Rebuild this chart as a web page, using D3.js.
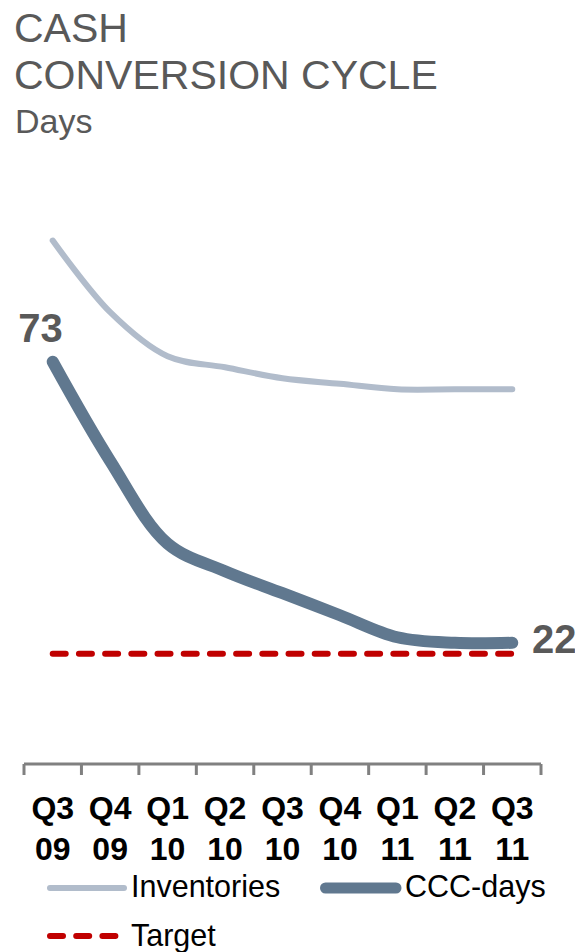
<!DOCTYPE html>
<html>
<head>
<meta charset="utf-8">
<script src="https://cdn.jsdelivr.net/npm/d3@7"></script>
<style>
  html, body { margin: 0; padding: 0; background: #fff; }
  svg { display: block; font-family: "Liberation Sans", Arial, sans-serif; }
</style>
</head>
<body>
<svg id="chart" width="575" height="952"></svg>
<script>
// Quarterly cash conversion cycle, in days
const quarters = ["Q3 09", "Q4 09", "Q1 10", "Q2 10", "Q3 10", "Q4 10", "Q1 11", "Q2 11", "Q3 11"];
const quarterLines = [["Q3", "09"], ["Q4", "09"], ["Q1", "10"], ["Q2", "10"], ["Q3", "10"], ["Q4", "10"], ["Q1", "11"], ["Q2", "11"], ["Q3", "11"]];
const inventories = [95, 82, 74, 72, 70, 69, 68, 68, 68];
const cccDays = [73, 55, 40, 35, 31, 27, 23, 22, 22];
const target = [20, 20, 20, 20, 20, 20, 20, 20, 20];
const titleLines = ["CASH", "CONVERSION CYCLE"];
const subtitle = "Days";

const colors = { inv: "#b1bccb", ccc: "#60788f", target: "#c00000", text: "#595959", axis: "#808080" };

const svg = d3.select("#chart");

const x = d3.scaleBand().domain(quarters).range([24, 541]).padding(0);
const y = d3.scaleLinear().domain([0, 100]).range([764, 213]);
const cx = q => x(q) + x.bandwidth() / 2;

// Title block
svg.append("g").selectAll("text").data(titleLines).join("text")
  .attr("x", 14).attr("y", (d, i) => 41.5 + i * 47)
  .attr("font-size", 41).attr("fill", colors.text).text(d => d);
svg.append("text").attr("x", 15).attr("y", 133)
  .attr("font-size", 34).attr("fill", colors.text).text(subtitle);

const line = d3.line()
  .x((d, i) => cx(quarters[i]))
  .y(d => y(d))
  .curve(d3.curveCatmullRom.alpha(0.5));

// Series
svg.append("path").datum(inventories).attr("d", line)
  .attr("fill", "none").attr("stroke", colors.inv).attr("stroke-width", 6)
  .attr("stroke-linecap", "round").attr("stroke-linejoin", "round");

svg.append("path").datum(target).attr("d", d3.line().x((d, i) => cx(quarters[i])).y(d => y(d)))
  .attr("fill", "none").attr("stroke", colors.target).attr("stroke-width", 6)
  .attr("stroke-linecap", "round").attr("stroke-dasharray", "13,13.2");

svg.append("path").datum(cccDays).attr("d", line)
  .attr("fill", "none").attr("stroke", colors.ccc).attr("stroke-width", 12)
  .attr("stroke-linecap", "round").attr("stroke-linejoin", "round");

// End-point value labels
const last = cccDays.length - 1;
svg.append("text").attr("x", 40.5).attr("y", 342)
  .attr("text-anchor", "middle").attr("font-size", 40).attr("font-weight", "bold")
  .attr("fill", colors.text).text(cccDays[0]);
svg.append("text").attr("x", 532).attr("y", y(cccDays[last]) + 10.5)
  .attr("font-size", 40).attr("font-weight", "bold")
  .attr("fill", colors.text).text(cccDays[last]);

// Category axis with ticks at band boundaries
const axisG = svg.append("g");
const y0 = y(0);
axisG.append("line").attr("x1", x.range()[0]).attr("x2", x.range()[1])
  .attr("y1", y0).attr("y2", y0).attr("stroke", colors.axis).attr("stroke-width", 3);
const bounds = quarters.map(q => x(q)).concat([x.range()[1]]);
axisG.selectAll("line.tick").data(bounds).join("line").attr("class", "tick")
  .attr("x1", d => d).attr("x2", d => d).attr("y1", y0).attr("y2", y0 + 11)
  .attr("stroke", colors.axis).attr("stroke-width", 3);
const lbl = axisG.selectAll("text").data(quarters).join("text")
  .attr("text-anchor", "middle").attr("font-size", 32).attr("font-weight", "bold")
  .attr("fill", "#000");
lbl.append("tspan").attr("x", d => cx(d)).attr("y", 819).text((d, i) => quarterLines[i][0]);
lbl.append("tspan").attr("x", d => cx(d)).attr("y", 860).text((d, i) => quarterLines[i][1]);

// Legend
const legend = svg.append("g");
legend.append("line").attr("x1", 50).attr("x2", 124).attr("y1", 888).attr("y2", 888)
  .attr("stroke", colors.inv).attr("stroke-width", 6).attr("stroke-linecap", "round");
legend.append("text").attr("x", 131).attr("y", 897).attr("font-size", 30.5).attr("fill", "#000").text("Inventories");
legend.append("line").attr("x1", 325.5).attr("x2", 396).attr("y1", 888).attr("y2", 888)
  .attr("stroke", colors.ccc).attr("stroke-width", 11).attr("stroke-linecap", "round");
legend.append("text").attr("x", 405).attr("y", 897).attr("font-size", 30.5).attr("fill", "#000").text("CCC-days");
legend.append("line").attr("x1", 50).attr("x2", 115.5).attr("y1", 936).attr("y2", 936)
  .attr("stroke", colors.target).attr("stroke-width", 6).attr("stroke-linecap", "round")
  .attr("stroke-dasharray", "13,13.2");
legend.append("text").attr("x", 131).attr("y", 946).attr("font-size", 30.5).attr("fill", "#000").text("Target");
</script>
</body>
</html>
